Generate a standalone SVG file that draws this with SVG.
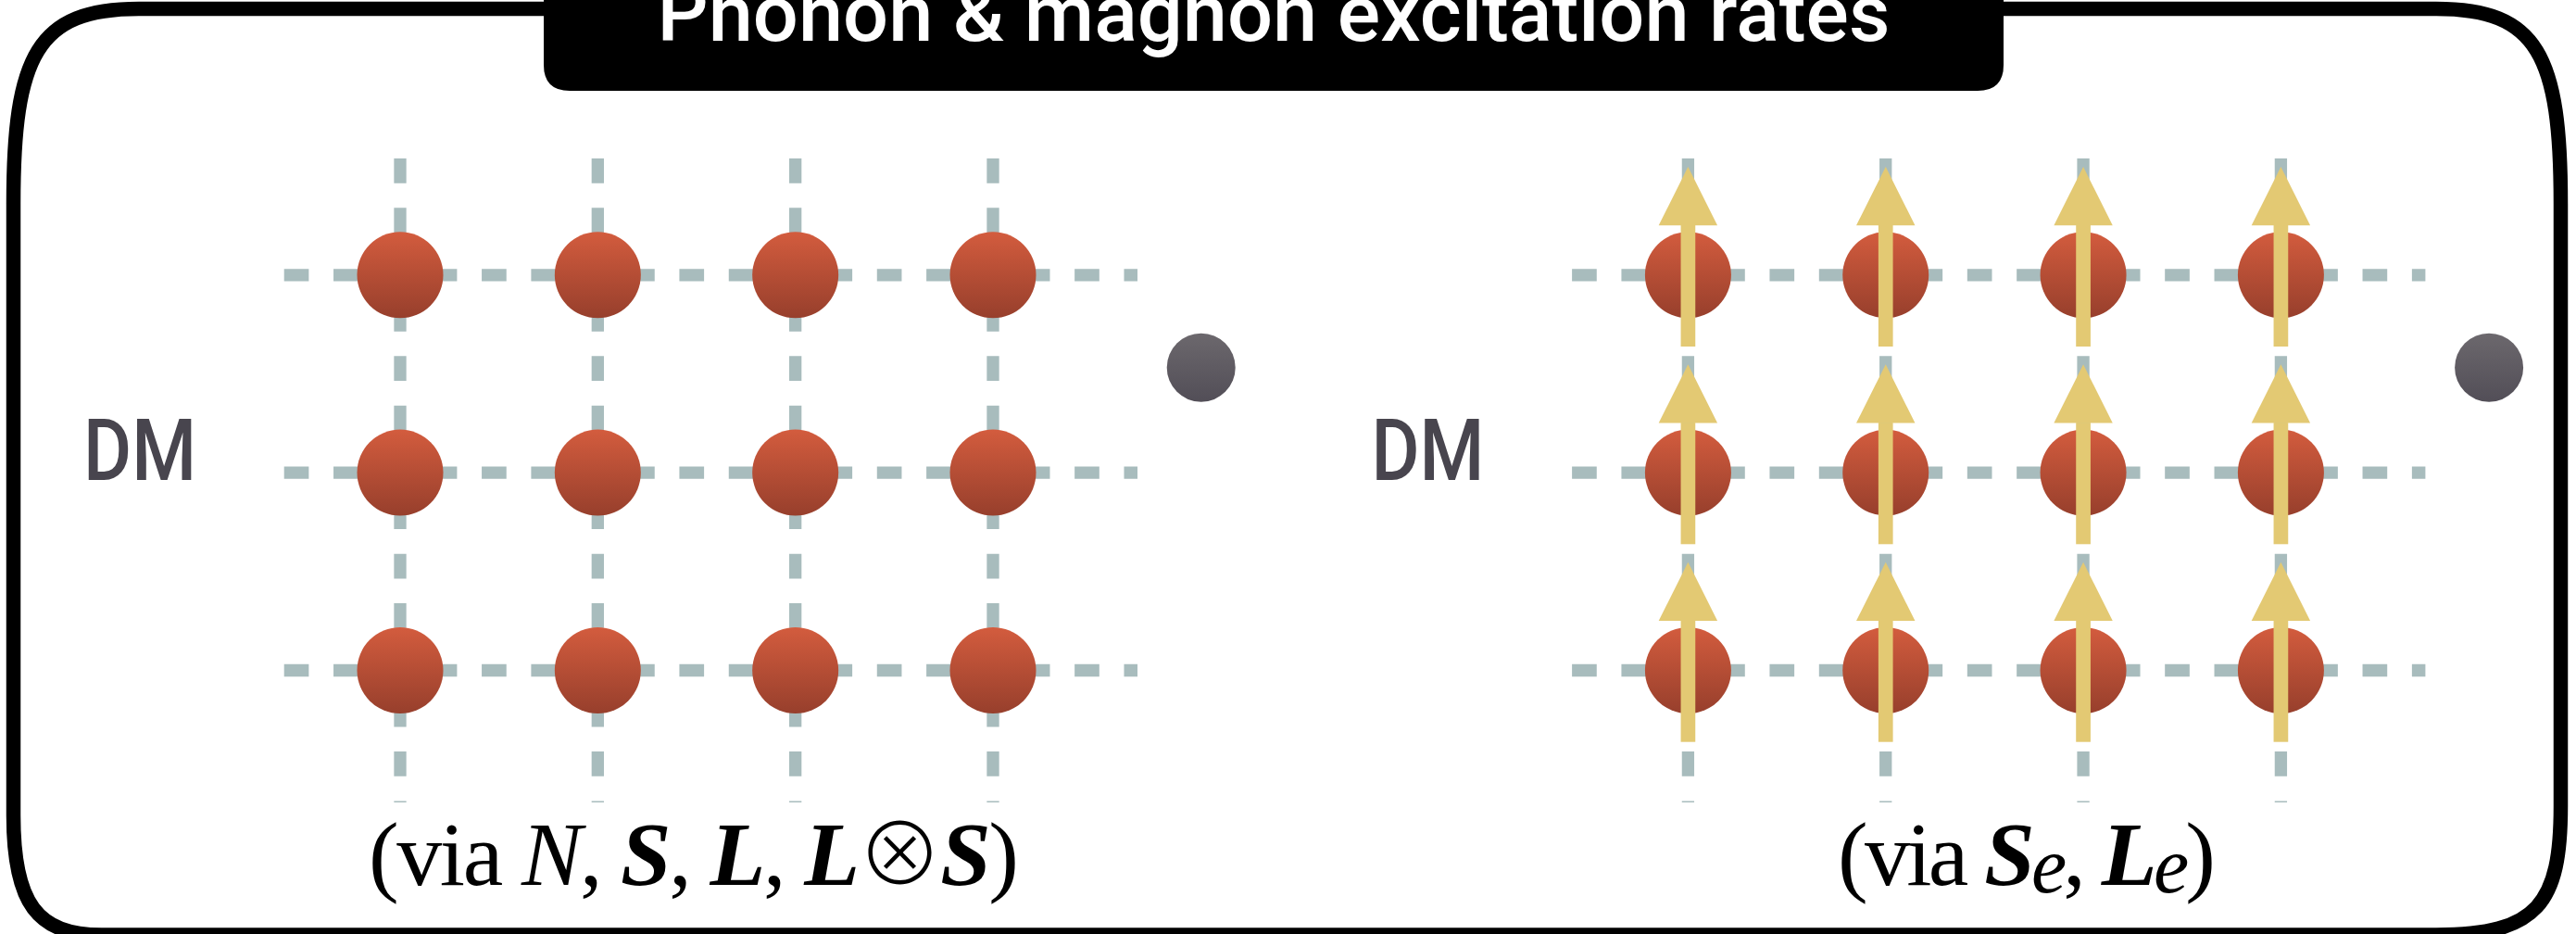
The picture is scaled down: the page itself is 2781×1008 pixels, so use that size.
<svg xmlns="http://www.w3.org/2000/svg" xmlns:xlink="http://www.w3.org/1999/xlink" width="2781" height="1008" viewBox="0 0 2781 1008">
  <defs>
    <linearGradient id="atomFill" x1="0" y1="0" x2="0" y2="1">
      <stop offset="0" stop-color="#d35c3e"/>
      <stop offset="1" stop-color="#973f2c"/>
    </linearGradient>
    <linearGradient id="dmFill" x1="0" y1="0" x2="0" y2="1">
      <stop offset="0" stop-color="#6c686d"/>
      <stop offset="1" stop-color="#524e57"/>
    </linearGradient>
    <!-- spin arrow drawn around a lattice site at (0,0) -->
    <g id="spin">
      <rect x="-7.85" y="-54" width="15.7" height="131.2" fill="#e3c973"/>
      <polygon points="0,-116.8 31.7,-53.5 -31.7,-53.5" fill="#e3c973"/>
    </g>
  </defs>
  <style>
    .grid { stroke: #a8bcbd; stroke-width: 13.3; stroke-dasharray: 26.67 26.67; fill: none; }
    .atom { fill: url(#atomFill); }
    .dm-dot { fill: url(#dmFill); }
    .dm-label { font-family: Roboto, "DejaVu Sans", sans-serif; font-weight: 500; font-size: 92px; fill: #48454e; }
    .caption { font-family: "Liberation Serif", "DejaVu Serif", serif; font-size: 98px; fill: #000; }
    .otimes { font-family: "Noto Sans CJK JP", "DejaVu Sans", sans-serif; font-weight: 300; font-size: 92px; }
    .title { font-family: Roboto, "DejaVu Sans", sans-serif; font-weight: 500; font-size: 86px; fill: #fff; }
  </style>

  <rect width="2781" height="1008" fill="#fff"/>

  <!-- outer frame -->
  <path id="frame" d="M150,9.5 H2630 C2740,9.5 2764.5,60 2764.5,220 V870 C2764.5,975 2740,1009 2630,1009 H110 C40,1009 14.5,975 14.5,880 V220 C14.5,60 40,9.5 150,9.5 Z" fill="none" stroke="#000" stroke-width="15.5"/>

  <!-- title tab -->
  <g id="title">
    <path d="M587,-40 H2163 V70 Q2163,98 2135,98 H615 Q587,98 587,70 Z" fill="#000"/>
    <text class="title" x="1375" y="44" text-anchor="middle" textLength="1331" lengthAdjust="spacingAndGlyphs">Phonon &amp; magnon excitation rates</text>
  </g>

  <!-- lattice lines -->
  <g id="lattice-lines" class="grid">
    <line x1="432" y1="171" x2="432" y2="866"/>
    <line x1="645.33" y1="171" x2="645.33" y2="866"/>
    <line x1="858.67" y1="171" x2="858.67" y2="866"/>
    <line x1="1072" y1="171" x2="1072" y2="866"/>
    <line x1="306.7" y1="296.8" x2="1228" y2="296.8"/>
    <line x1="306.7" y1="510.1" x2="1228" y2="510.1"/>
    <line x1="306.7" y1="723.5" x2="1228" y2="723.5"/>

    <line x1="1822.4" y1="171" x2="1822.4" y2="866"/>
    <line x1="2035.73" y1="171" x2="2035.73" y2="866"/>
    <line x1="2249.07" y1="171" x2="2249.07" y2="866"/>
    <line x1="2462.4" y1="171" x2="2462.4" y2="866"/>
    <line x1="1697.1" y1="296.8" x2="2618.4" y2="296.8"/>
    <line x1="1697.1" y1="510.1" x2="2618.4" y2="510.1"/>
    <line x1="1697.1" y1="723.5" x2="2618.4" y2="723.5"/>
  </g>

  <!-- left panel: phonon lattice -->
  <g id="dm-left">
    <text class="dm-label" x="90" y="518" textLength="122" lengthAdjust="spacingAndGlyphs">DM</text>
    <circle class="dm-dot" cx="1296.7" cy="396.7" r="37"/>
  </g>
  <g id="atom-l-1-1"><circle class="atom" cx="432" cy="296.8" r="46.5"/></g>
  <g id="atom-l-1-2"><circle class="atom" cx="645.33" cy="296.8" r="46.5"/></g>
  <g id="atom-l-1-3"><circle class="atom" cx="858.67" cy="296.8" r="46.5"/></g>
  <g id="atom-l-1-4"><circle class="atom" cx="1072" cy="296.8" r="46.5"/></g>
  <g id="atom-l-2-1"><circle class="atom" cx="432" cy="510.1" r="46.5"/></g>
  <g id="atom-l-2-2"><circle class="atom" cx="645.33" cy="510.1" r="46.5"/></g>
  <g id="atom-l-2-3"><circle class="atom" cx="858.67" cy="510.1" r="46.5"/></g>
  <g id="atom-l-2-4"><circle class="atom" cx="1072" cy="510.1" r="46.5"/></g>
  <g id="atom-l-3-1"><circle class="atom" cx="432" cy="723.5" r="46.5"/></g>
  <g id="atom-l-3-2"><circle class="atom" cx="645.33" cy="723.5" r="46.5"/></g>
  <g id="atom-l-3-3"><circle class="atom" cx="858.67" cy="723.5" r="46.5"/></g>
  <g id="atom-l-3-4"><circle class="atom" cx="1072" cy="723.5" r="46.5"/></g>
  <text id="caption-left" class="caption" x="398" y="955" textLength="702" lengthAdjust="spacing">(via <tspan font-style="italic">N</tspan>, <tspan font-style="italic" font-weight="bold">S</tspan>, <tspan font-style="italic" font-weight="bold">L</tspan>, <tspan font-style="italic" font-weight="bold">L</tspan><tspan class="otimes">⊗</tspan><tspan font-style="italic" font-weight="bold">S</tspan>)</text>

  <!-- right panel: magnon lattice with spins -->
  <g id="dm-right">
    <text class="dm-label" x="1480.4" y="518" textLength="122" lengthAdjust="spacingAndGlyphs">DM</text>
    <circle class="dm-dot" cx="2687.1" cy="396.7" r="37"/>
  </g>
  <g id="site-r-1-1"><circle class="atom" cx="1822.4" cy="296.8" r="46.5"/><use xlink:href="#spin" x="1822.4" y="296.8"/></g>
  <g id="site-r-1-2"><circle class="atom" cx="2035.73" cy="296.8" r="46.5"/><use xlink:href="#spin" x="2035.73" y="296.8"/></g>
  <g id="site-r-1-3"><circle class="atom" cx="2249.07" cy="296.8" r="46.5"/><use xlink:href="#spin" x="2249.07" y="296.8"/></g>
  <g id="site-r-1-4"><circle class="atom" cx="2462.4" cy="296.8" r="46.5"/><use xlink:href="#spin" x="2462.4" y="296.8"/></g>
  <g id="site-r-2-1"><circle class="atom" cx="1822.4" cy="510.1" r="46.5"/><use xlink:href="#spin" x="1822.4" y="510.1"/></g>
  <g id="site-r-2-2"><circle class="atom" cx="2035.73" cy="510.1" r="46.5"/><use xlink:href="#spin" x="2035.73" y="510.1"/></g>
  <g id="site-r-2-3"><circle class="atom" cx="2249.07" cy="510.1" r="46.5"/><use xlink:href="#spin" x="2249.07" y="510.1"/></g>
  <g id="site-r-2-4"><circle class="atom" cx="2462.4" cy="510.1" r="46.5"/><use xlink:href="#spin" x="2462.4" y="510.1"/></g>
  <g id="site-r-3-1"><circle class="atom" cx="1822.4" cy="723.5" r="46.5"/><use xlink:href="#spin" x="1822.4" y="723.5"/></g>
  <g id="site-r-3-2"><circle class="atom" cx="2035.73" cy="723.5" r="46.5"/><use xlink:href="#spin" x="2035.73" y="723.5"/></g>
  <g id="site-r-3-3"><circle class="atom" cx="2249.07" cy="723.5" r="46.5"/><use xlink:href="#spin" x="2249.07" y="723.5"/></g>
  <g id="site-r-3-4"><circle class="atom" cx="2462.4" cy="723.5" r="46.5"/><use xlink:href="#spin" x="2462.4" y="723.5"/></g>
  <text id="caption-right" class="caption" x="1984" y="955" textLength="408" lengthAdjust="spacing">(via <tspan font-style="italic" font-weight="bold">S</tspan><tspan font-style="italic" font-size="86px" dy="8">e</tspan><tspan dy="-8">, </tspan><tspan font-style="italic" font-weight="bold">L</tspan><tspan font-style="italic" font-size="86px" dy="8">e</tspan><tspan dy="-8">)</tspan></text>
</svg>
